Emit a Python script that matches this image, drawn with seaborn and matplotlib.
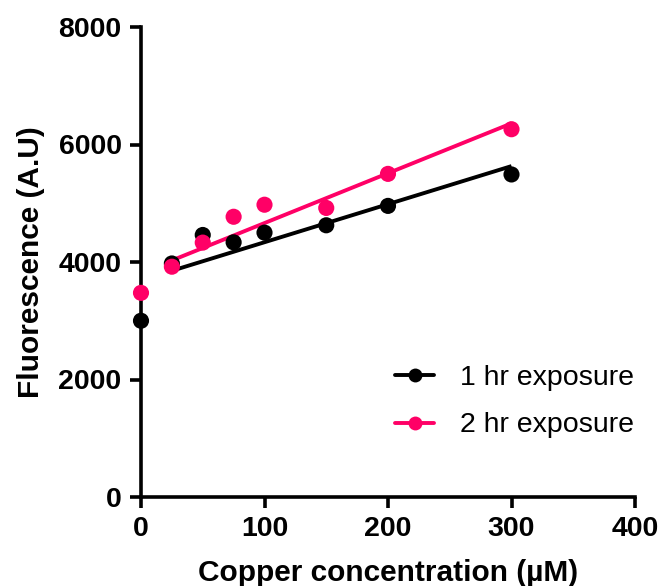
import numpy as np
import pandas as pd
import matplotlib
matplotlib.use("Agg")
import matplotlib.pyplot as plt
from matplotlib.lines import Line2D
import seaborn as sns

# data
conc = [0, 25, 50, 75, 100, 150, 200, 300]
fluor_1hr = [3000, 3975, 4460, 4335, 4500, 4625, 4955, 5490]
fluor_2hr = [3475, 3920, 4330, 4770, 4975, 4920, 5500, 6260]
series = ["1 hr exposure", "2 hr exposure"]
colors = {"1 hr exposure": "#000000", "2 hr exposure": "#FF0066"}

df = pd.concat([
    pd.DataFrame({"conc": conc, "fluor": fluor_1hr, "group": series[0]}),
    pd.DataFrame({"conc": conc, "fluor": fluor_2hr, "group": series[1]}),
])

sns.set_style("ticks", {"axes.edgecolor": "black", "text.color": "black",
                        "xtick.color": "black", "ytick.color": "black",
                        "axes.labelcolor": "black"})
plt.rcParams["font.family"] = ["Liberation Sans", "DejaVu Sans"]

fig = plt.figure(figsize=(6.58, 5.86), dpi=100)
ax = fig.add_axes([141 / 658, 1 - 497 / 586, (635 - 141) / 658, (497 - 27) / 586])

# linear fits over all points, drawn from 25 to 300 like Prism does
for name, vals in zip(series, [fluor_1hr, fluor_2hr]):
    slope, icpt = np.polyfit(conc, vals, 1)
    xs = np.array([25, 300])
    ax.plot(xs, slope * xs + icpt, color=colors[name], lw=2.8, zorder=3,
            solid_capstyle="butt")

sns.scatterplot(data=df, x="conc", y="fluor", hue="group", palette=colors,
                s=135, edgecolor="none", legend=False, ax=ax, zorder=5,
                clip_on=False)

ax.set_xlim(0, 400)
ax.set_ylim(0, 8000)
ax.set_xticks([0, 100, 200, 300, 400])
ax.set_yticks([0, 2000, 4000, 6000, 8000])
sns.despine(ax=ax)
for sp in ["left", "bottom"]:
    ax.spines[sp].set_linewidth(2.6)
ax.tick_params(width=2.6, length=8, labelsize=20.5, pad=6)
for lab in ax.get_xticklabels() + ax.get_yticklabels():
    lab.set_fontweight("bold")

ax.set_xlabel("Copper concentration (µM)", fontsize=21.5, fontweight="bold", labelpad=12)
ax.set_ylabel("Fluorescence (A.U)", fontsize=21.5, fontweight="bold", labelpad=10)

handles = [Line2D([], [], color=colors[n], lw=2.8, marker="o", markersize=10,
                  markeredgewidth=0) for n in series]
ax.legend(handles, series, loc="lower right", bbox_to_anchor=(1.05, 0.07),
          frameon=False, fontsize=20.5, handlelength=1.4, labelspacing=0.75,
          handletextpad=0.9)

fig.savefig("out.png", dpi=100)
